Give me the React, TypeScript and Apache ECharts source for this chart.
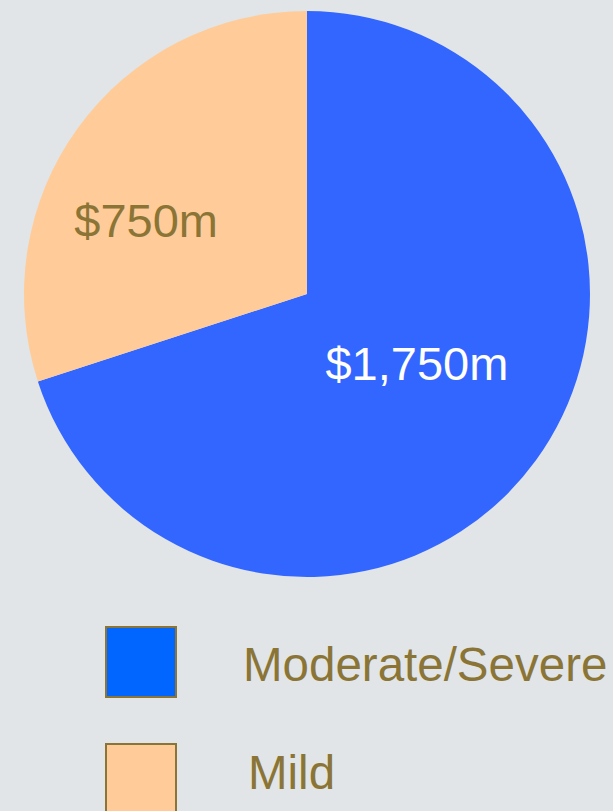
import React, { useEffect, useRef } from "react";
import * as echarts from "echarts";

const categories = ["Moderate/Severe", "Mild"];
const values = [1750, 750];
const valueLabels = ["$1,750m", "$750m"];
const sliceColors = ["#3366ff", "#ffcc99"];
const legendColors = ["#0066ff", "#ffcc99"];
const labelColors = ["#ffffff", "#8b7536"];
const labelOffsets: [number, number][] = [[-7, -15], [-44, 11]];
const legendTops = [627, 744];
const legendTextLeft = [243, 248];
const legendTextMid = [664, 772];

const FONT = 'Arial, "Liberation Sans", sans-serif';
const OLIVE = "#8b7536";

export default function App() {
  const ref = useRef<HTMLDivElement>(null);
  useEffect(() => {
    if (!ref.current) return;
    const chart = echarts.init(ref.current, undefined, { renderer: "svg" });
    const graphic: any[] = [];
    categories.forEach((c, i) => {
      graphic.push({
        type: "rect",
        shape: { x: 106, y: legendTops[i], width: 70, height: 70 },
        style: { fill: legendColors[i], stroke: OLIVE, lineWidth: 2 },
      });
      graphic.push({
        type: "text",
        x: legendTextLeft[i],
        y: legendTextMid[i],
        style: {
          text: c,
          fill: OLIVE,
          font: `47.5px ${FONT}`,
          textAlign: "left",
          textVerticalAlign: "middle",
        },
      });
    });
    chart.setOption({
      animation: false,
      backgroundColor: "#e1e5e8",
      graphic,
      series: [
        {
          type: "pie",
          center: [307, 294],
          radius: [0, 283],
          startAngle: 90,
          clockwise: true,
          labelLine: { show: false },
          emphasis: { disabled: true },
          data: categories.map((c, i) => ({
            name: c,
            value: values[i],
            itemStyle: { color: sliceColors[i] },
            label: {
              show: true,
              position: "inside",
              formatter: valueLabels[i],
              color: labelColors[i],
              fontSize: 47,
              fontFamily: FONT,
              offset: labelOffsets[i],
            },
          })),
        },
      ],
    });
    return () => chart.dispose();
  }, []);
  return (
    <div
      ref={ref}
      style={{ position: "fixed", left: 0, top: 0, width: 613, height: 811 }}
    />
  );
}
